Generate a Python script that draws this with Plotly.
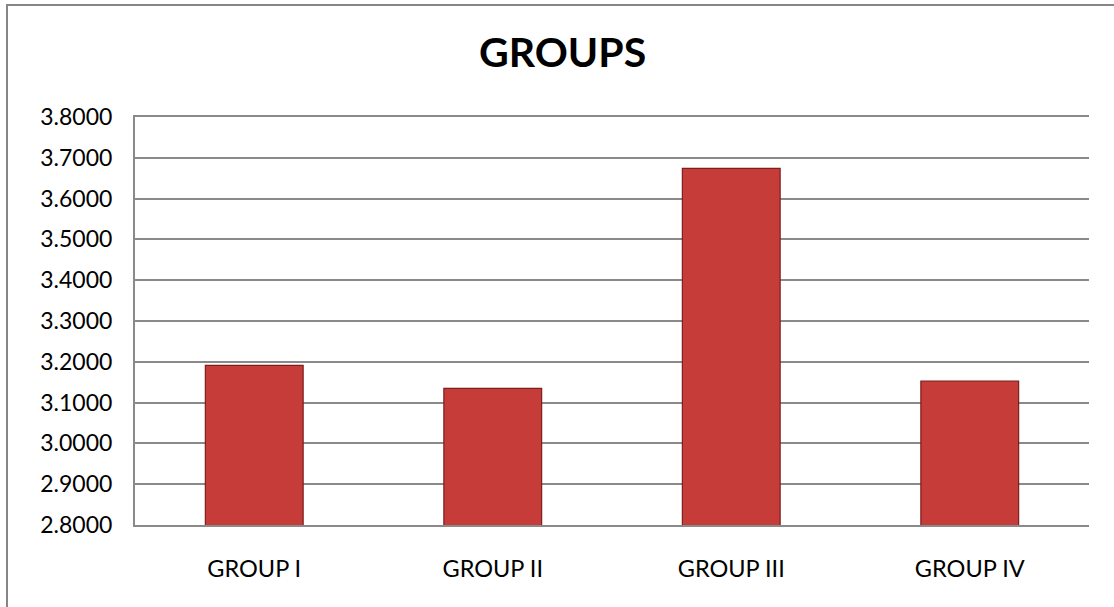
import plotly.graph_objects as go

categories = ["GROUP I", "GROUP II", "GROUP III", "GROUP IV"]
values = [3.191, 3.135, 3.674, 3.153]
tick_vals = [2.8, 2.9, 3.0, 3.1, 3.2, 3.3, 3.4, 3.5, 3.6, 3.7, 3.8]
tick_text = [f"{v:.4f}" for v in tick_vals]

W, H = 1114, 607
L, R, T, B = 135, 25, 117, 82
pw, ph = W - L - R, H - T - B

fig = go.Figure()
fig.add_trace(go.Bar(
    x=categories, y=values, width=0.41,
    marker=dict(color="rgb(198,60,56)", line=dict(color="rgb(125,30,30)", width=1.2)),
))

def px_to_paper_x(p):
    return (p - L) / pw

def px_to_paper_y(p):
    return (H - B - p) / ph

fig.add_shape(type="rect", xref="paper", yref="paper",
              x0=px_to_paper_x(7), x1=px_to_paper_x(1125),
              y0=px_to_paper_y(620), y1=px_to_paper_y(5),
              line=dict(color="#868686", width=2), fillcolor="rgba(0,0,0,0)", layer="below")

fig.update_layout(
    width=W, height=H,
    margin=dict(l=L, r=R, t=T, b=B),
    paper_bgcolor="white", plot_bgcolor="white",
    font=dict(family="Lato, Carlito, sans-serif", color="#000000", size=23),
    title=dict(text="<b>GROUPS</b>", x=0.505, xref="container", xanchor="center",
               y=1 - 53 / H, yanchor="middle", font=dict(size=41, color="#000000")),
    showlegend=False,
)
fig.update_yaxes(range=[2.8, 3.8], tickvals=tick_vals, ticktext=tick_text,
                 showgrid=True, gridcolor="#8a8a8a", gridwidth=2,
                 showline=True, linecolor="#8a8a8a", linewidth=2,
                 ticks="", ticklabelstandoff=16, zeroline=False, fixedrange=True)
fig.update_xaxes(showline=True, linecolor="#8a8a8a", linewidth=2, mirror=True, ticks="",
                 ticklabelstandoff=22, showgrid=False, tickfont=dict(size=23.5))

fig.write_html("out.html")
